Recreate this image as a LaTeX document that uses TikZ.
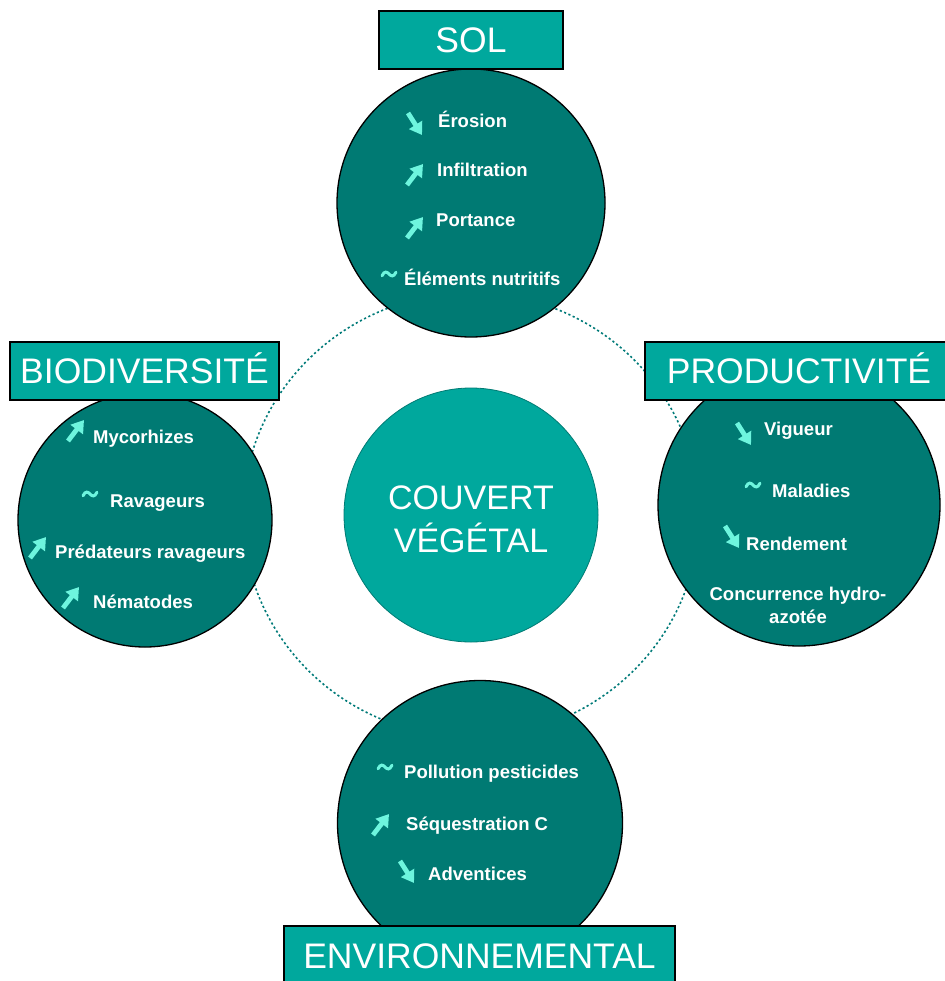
\documentclass[tikz,border=0pt]{standalone}
\usepackage{fontspec}
\setmainfont{Liberation Sans}
\usetikzlibrary{arrows.meta}
\definecolor{darkteal}{RGB}{0,122,115}
\definecolor{midteal}{RGB}{0,168,157}
\definecolor{aqua}{RGB}{110,245,222}
\definecolor{dotteal}{RGB}{0,122,120}
\newcommand\myup[2]{\draw[trend] (#1,#2) -- ++(16,-21);}
\newcommand\mydown[2]{\draw[trend] (#1,#2) -- ++(14,22);}
\newcommand\mytilde[2]{\draw[aqua,line width=3pt,line cap=round] (#1-7,#2+1.8) .. controls (#1-4.5,#2-3.5) and (#1-2,#2-2.2) .. (#1,#2) .. controls (#1+2,#2+2.2) and (#1+4.5,#2+3.5) .. (#1+7,#2-1.8);}
\begin{document}
\begin{tikzpicture}[x=1pt,y=-1pt,
  bigc/.style={circle,draw=black,line width=1.3pt,fill=darkteal,minimum size=#1,inner sep=0pt},
  titlebox/.style={rectangle,draw=black,line width=2pt,fill=midteal,text=white,
     font=\fontsize{35.5}{40}\selectfont,text height=25pt,text depth=0pt,inner sep=0pt,
     minimum height=58pt,minimum width=#1},
  item/.style={text=white,font=\bfseries\fontsize{18.5}{22}\selectfont,inner sep=0pt,anchor=base west},
  trend/.style={aqua,line width=4.8pt,-{Triangle[length=12pt,width=15pt]}}]
\useasboundingbox (0,0) rectangle (944,981);

% dotted orbit
\draw[dotteal,line width=1.6pt,dash pattern=on 2.2pt off 2.5pt] (471,515) ellipse [x radius=228, y radius=222];

% centre
\node (centre) [circle,fill=midteal,draw=darkteal,line width=0.8pt,minimum size=254pt,inner sep=0pt] at (471,515) {};
\node (ctext) [text=white,font=\fontsize{34}{43}\selectfont,align=center,inner sep=0pt] at (471,519) {COUVERT\\VÉGÉTAL};

% circles
\node (sol) [bigc=268pt] at (471,203) {};
\node (bio) [bigc=254pt] at (145,520) {};
\node (prod) [bigc=282pt] at (799,505) {};
\node (env) [bigc=285pt] at (480,823) {};

% title boxes
\node (solt) [titlebox=184pt] at (471,40) {SOL};
\node (biot) [titlebox=269pt] at (144.5,371) {BIODIVERSITÉ};
\node (prodt) [titlebox=308pt] at (799,370.5) {PRODUCTIVITÉ};
\node (envt) [titlebox=391pt,minimum height=60pt] at (479.5,956) {ENVIRONNEMENTAL};

% SOL items
\mydown{408}{113}
\node (s1) [item] at (438,128) {Érosion};
\myup{407}{185}
\node (s2) [item] at (437,177) {Infiltration};
\myup{407}{238}
\node (s3) [item] at (436,227) {Portance};
\mytilde{389}{274}
\node (s4) [item] at (404,285) {Éléments nutritifs};

% BIODIVERSITE items
\myup{68}{441}
\node (b1) [item] at (93,443) {Mycorhizes};
\mytilde{90}{494}
\node (b2) [item] at (110,507) {Ravageurs};
\myup{30}{558}
\node (b3) [item] at (55,558) {Prédateurs ravageurs};
\myup{63}{608}
\node (b4) [item] at (93,608) {Nématodes};

% PRODUCTIVITE items
\mydown{737}{423}
\node (p1) [item] at (764,435) {Vigueur};
\mytilde{753}{485}
\node (p2) [item] at (772,497) {Maladies};
\mydown{725}{526}
\node (p3) [item] at (746,550) {Rendement};
\node (p4) [item,anchor=base] at (798,600) {Concurrence hydro-};
\node (p5) [item,anchor=base] at (798,623) {azotée};

% ENVIRONNEMENTAL items
\mytilde{385}{767}
\node (e1) [item] at (404,778) {Pollution pesticides};
\myup{373}{835}
\node (e2) [item] at (406,830) {Séquestration C};
\mydown{400}{861}
\node (e3) [item] at (428,880) {Adventices};
\end{tikzpicture}
\end{document}
